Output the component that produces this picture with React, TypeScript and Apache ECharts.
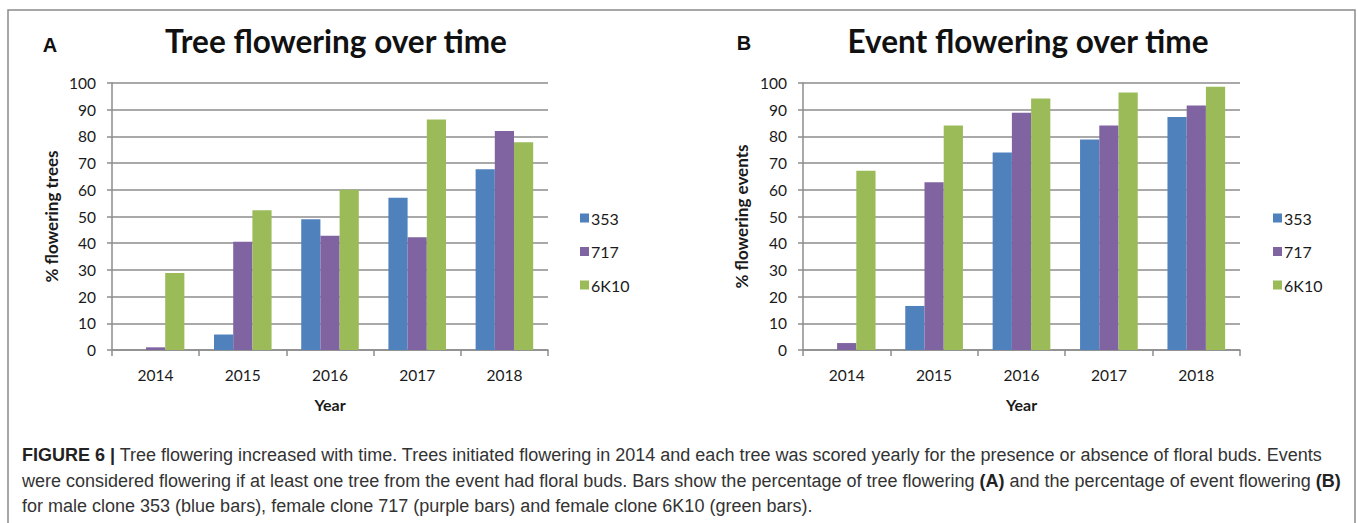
import React, { useEffect, useRef } from "react";
import * as echarts from "echarts";

const years = ["2014", "2015", "2016", "2017", "2018"];
const seriesNames = ["353", "717", "6K10"];
const colors = ["#4F81BD", "#8064A2", "#9BBB59"];

const tree353 = [0, 5.8, 49, 57, 67.7];
const tree717 = [1, 40.5, 42.8, 42.2, 82];
const tree6K10 = [28.8, 52.3, 60, 86.3, 77.8];

const event353 = [0, 16.5, 74, 78.8, 87.3];
const event717 = [2.6, 62.8, 88.9, 84.1, 91.6];
const event6K10 = [67.1, 84.1, 94.2, 96.4, 98.6];

const FONT = "Lato, 'Open Sans', sans-serif";
const CAP_FONT = "'Liberation Sans', Arial, sans-serif";

export default function App() {
  const ref = useRef<HTMLDivElement>(null);
  useEffect(() => {
    document.body.style.margin = "0";
    if (!ref.current) return;
    const chart = echarts.init(ref.current, null, { renderer: "svg" });
    const gridColor = "#8c8c8c";
    const mkX = (gi: number) => ({
      type: "category",
      gridIndex: gi,
      data: years,
      name: "Year",
      nameLocation: "middle",
      nameGap: 46,
      nameTextStyle: { fontFamily: FONT, fontWeight: "bold", fontSize: 16, color: "#1a1a1a" },
      axisLine: { lineStyle: { color: gridColor, width: 1.5 } },
      axisTick: { show: true, length: 6, alignWithLabel: false, lineStyle: { color: gridColor, width: 1.5 } },
      axisLabel: { fontFamily: FONT, fontSize: 15.5, color: "#1a1a1a", margin: 17 },
    });
    const mkY = (gi: number, name: string, gap: number) => ({
      type: "value",
      gridIndex: gi,
      min: 0,
      max: 100,
      interval: 10,
      name,
      nameLocation: "middle",
      nameGap: gap,
      nameTextStyle: { fontFamily: FONT, fontWeight: "bold", fontSize: 17, color: "#1a1a1a" },
      axisLine: { show: true, lineStyle: { color: gridColor, width: 1.5 } },
      axisTick: { show: true, length: 5, lineStyle: { color: gridColor, width: 1.5 } },
      axisLabel: { fontFamily: FONT, fontSize: 15.5, color: "#1a1a1a", margin: 16 },
      splitLine: { show: true, lineStyle: { color: gridColor, width: 1.5 } },
    });
    const treeData = [tree353, tree717, tree6K10];
    const eventData = [event353, event717, event6K10];
    const series: any[] = [];
    [treeData, eventData].forEach((set, gi) => {
      set.forEach((vals, si) => {
        series.push({
          type: "bar",
          name: seriesNames[si],
          xAxisIndex: gi,
          yAxisIndex: gi,
          data: vals,
          barGap: "0%",
          barCategoryGap: "34%",
          itemStyle: { color: colors[si] },
        });
      });
    });
    const legendCommon = {
      orient: "vertical",
      itemWidth: 9,
      itemHeight: 9,
      itemGap: 17.5,
      icon: "rect",
      textStyle: { fontFamily: FONT, fontSize: 16, color: "#1a1a1a", padding: [0, 0, 0, -3] },
      data: seriesNames,
    };
    const capLines = [
      "{b|FIGURE 6 |} Tree flowering increased with time. Trees initiated flowering in 2014 and each tree was scored yearly for the presence or absence of floral buds. Events",
      "were considered flowering if at least one tree from the event had floral buds. Bars show the percentage of tree flowering {b|(A)} and the percentage of event flowering {b|(B)}",
      "for male clone 353 (blue bars), female clone 717 (purple bars) and female clone 6K10 (green bars).",
    ];
    chart.setOption({
      animation: false,
      backgroundColor: "#ffffff",
      title: [
        {
          text: "Tree flowering over time",
          left: 331,
          top: 20,
          textAlign: "center",
          textStyle: { fontFamily: FONT, fontWeight: "bold", fontSize: 31.5, color: "#111" },
        },
        {
          text: "Event flowering over time",
          left: 1023,
          top: 20,
          textAlign: "center",
          textStyle: { fontFamily: FONT, fontWeight: "bold", fontSize: 31.5, color: "#111" },
        },
      ],
      grid: [
        { left: 112, right: 810, top: 83, bottom: 173 },
        { left: 803, right: 118, top: 83, bottom: 173 },
      ],
      xAxis: [mkX(0), mkX(1)],
      yAxis: [mkY(0, "% flowering trees", 52), mkY(1, "% flowering events", 53)],
      legend: [
        { ...legendCommon, left: 575, top: 205 },
        { ...legendCommon, left: 1268, top: 205 },
      ],
      series,
      graphic: [
        {
          type: "polyline",
          shape: { points: [[8, 523], [8, 10], [1355, 10], [1355, 523]] },
          style: { stroke: "#8a8a8a", lineWidth: 1.5, fill: "none" },
        },
        {
          type: "text",
          x: 50,
          y: 45,
          style: { text: "A", font: "bold 20px 'Liberation Sans', Arial, sans-serif", fill: "#111", textAlign: "center", textVerticalAlign: "middle" },
        },
        {
          type: "text",
          x: 744,
          y: 43,
          style: { text: "B", font: "bold 20px 'Liberation Sans', Arial, sans-serif", fill: "#111", textAlign: "center", textVerticalAlign: "middle" },
        },
        ...capLines.map((t, i) => ({
          type: "text",
          x: 22,
          y: 455 + i * 25.5,
          style: {
            text: t,
            fontFamily: CAP_FONT,
            fontSize: 18,
            fill: "#333",
            textVerticalAlign: "middle",
            rich: {
              b: { fontFamily: CAP_FONT, fontSize: 18, fontWeight: "bold", fill: "#222" },
            },
          },
        })),
      ],
    });
    return () => chart.dispose();
  }, []);
  return <div ref={ref} style={{ width: 1358, height: 523 }} />;
}
